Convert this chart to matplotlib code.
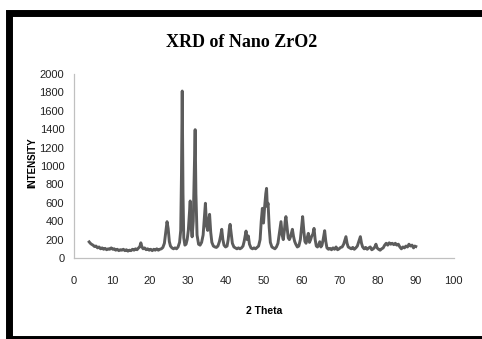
import matplotlib
matplotlib.use("Agg")
import matplotlib.pyplot as plt
from matplotlib.patches import Rectangle

# XRD pattern, 10 points per row
two_theta = [
    4.0, 4.3, 4.6, 5.0, 5.4, 5.8, 6.2, 6.6, 7.0, 7.4,
    7.8, 8.2, 8.6, 9.0, 9.4, 9.8, 10.2, 10.6, 11.0, 11.4,
    11.8, 12.2, 12.6, 13.0, 13.4, 13.8, 14.2, 14.6, 15.0, 15.4,
    15.8, 16.2, 16.6, 17.0, 17.3, 17.6, 17.9, 18.2, 18.6, 19.0,
    19.4, 19.8, 20.2, 20.6, 21.0, 21.4, 21.8, 22.2, 22.6, 23.0,
    23.4, 23.8, 24.1, 24.5, 24.8, 25.1, 25.4, 25.8, 26.2, 26.6,
    27.0, 27.4, 27.8, 28.1, 28.3, 28.5, 28.7, 28.9, 29.2, 29.5,
    29.8, 30.1, 30.4, 30.6, 30.8, 31.1, 31.4, 31.7, 31.9, 32.1,
    32.4, 32.8, 33.2, 33.6, 34.0, 34.3, 34.6, 34.9, 35.2, 35.5,
    35.7, 36.0, 36.3, 36.7, 37.1, 37.5, 37.9, 38.3, 38.6, 38.9,
    39.2, 39.5, 39.9, 40.3, 40.6, 40.9, 41.1, 41.4, 41.7, 42.1,
    42.5, 42.9, 43.3, 43.7, 44.1, 44.5, 44.8, 45.1, 45.3, 45.6,
    45.9, 46.2, 46.6, 47.0, 47.4, 47.8, 48.2, 48.6, 49.0, 49.3,
    49.6, 49.9, 50.2, 50.5, 50.7, 50.9, 51.1, 51.4, 51.7, 52.1,
    52.5, 52.9, 53.3, 53.7, 54.0, 54.3, 54.5, 54.8, 55.1, 55.4,
    55.6, 55.8, 56.1, 56.4, 56.7, 57.0, 57.3, 57.5, 57.8, 58.1,
    58.4, 58.8, 59.2, 59.6, 59.9, 60.2, 60.5, 60.8, 61.1, 61.4,
    61.7, 62.0, 62.3, 62.6, 62.9, 63.2, 63.5, 63.8, 64.1, 64.4,
    64.7, 65.0, 65.3, 65.6, 66.0, 66.3, 66.6, 67.0, 67.4, 67.8,
    68.2, 68.6, 69.0, 69.4, 69.8, 70.2, 70.6, 71.0, 71.3, 71.6,
    71.9, 72.2, 72.6, 73.0, 73.4, 73.8, 74.2, 74.6, 75.0, 75.4,
    75.7, 76.0, 76.4, 76.8, 77.2, 77.6, 78.0, 78.4, 78.8, 79.2,
    79.5, 79.8, 80.2, 80.6, 81.0, 81.4, 81.8, 82.2, 82.6, 83.0,
    83.4, 83.8, 84.2, 84.6, 85.0, 85.4, 85.8, 86.2, 86.6, 87.0,
    87.4, 87.8, 88.2, 88.6, 89.0, 89.4, 89.7, 90.0,
]
intensity = [
    175, 160, 150, 140, 125, 130, 110, 120, 100, 110,
    95, 105, 90, 100, 95, 110, 95, 100, 85, 95,
    80, 90, 85, 95, 80, 90, 75, 85, 80, 95,
    85, 100, 90, 110, 120, 165, 120, 100, 110, 90,
    100, 85, 95, 80, 95, 85, 100, 85, 95, 100,
    115, 160, 260, 395, 320, 180, 130, 110, 100, 110,
    100, 120, 170, 300, 900, 1815, 700, 220, 140, 150,
    200, 300, 500, 620, 350, 230, 400, 1000, 1395, 700,
    250, 150, 140, 170, 250, 420, 595, 350, 300, 420,
    475, 280, 170, 130, 120, 115, 130, 180, 240, 312,
    200, 140, 120, 130, 200, 320, 366, 260, 160, 120,
    110, 100, 110, 100, 110, 130, 180, 250, 293, 200,
    240, 150, 110, 100, 110, 100, 115, 130, 200, 400,
    540, 380, 560, 700, 757, 560, 595, 330, 170, 120,
    110, 100, 120, 160, 250, 340, 395, 250, 200, 300,
    400, 450, 330, 220, 200, 230, 280, 312, 235, 180,
    150, 120, 130, 200, 330, 450, 300, 180, 160, 220,
    268, 170, 200, 240, 260, 322, 200, 130, 120, 140,
    177, 120, 140, 200, 297, 180, 110, 95, 105, 90,
    110, 95, 120, 90, 100, 115, 120, 150, 190, 232,
    160, 120, 110, 100, 115, 95, 110, 130, 180, 232,
    160, 120, 100, 115, 95, 110, 120, 90, 100, 120,
    150, 110, 95, 85, 100, 110, 140, 160, 140, 165,
    150, 160, 145, 160, 140, 150, 120, 100, 120, 110,
    130, 120, 150, 130, 140, 110, 130, 125,
]

x_ticks = [0, 10, 20, 30, 40, 50, 60, 70, 80, 90, 100]
y_ticks = [0, 200, 400, 600, 800, 1000, 1200, 1400, 1600, 1800, 2000]

fig = plt.figure(figsize=(4.82, 3.39), dpi=100)
ax = fig.add_axes([0.1535, 0.2389, 0.788, 0.5428])

ax.plot(two_theta, intensity, color="#5c5c5c", linewidth=2.1)

ax.set_xlim(0, 100)
ax.set_ylim(0, 2000)
ax.set_xticks(x_ticks)
ax.set_yticks(y_ticks)
ax.tick_params(length=0, labelsize=8, labelcolor="#222222")
ax.tick_params(axis="x", pad=13)
ax.tick_params(axis="y", pad=7)
for lab in ax.get_xticklabels() + ax.get_yticklabels():
    lab.set_family("Liberation Sans")

for s in ["top", "right"]:
    ax.spines[s].set_visible(False)
for s in ["left", "bottom"]:
    ax.spines[s].set_color("#c0c0c0")
    ax.spines[s].set_linewidth(0.9)

ax.set_xlabel("2 Theta", fontsize=7.5, fontweight="bold", family="Liberation Sans")
ax.set_ylabel("INTENSITY", fontsize=7, fontweight="bold", family="Liberation Sans")
ax.xaxis.set_label_coords(0.5, -0.288)
ax.yaxis.set_label_coords(-0.11, 0.516)
ax.xaxis.label.set_va("center")
ax.yaxis.label.set_va("center")

fig.text(0.502, 0.876, "XRD of Nano ZrO2", ha="center", va="center",
         fontsize=13, fontweight="bold", family="Liberation Serif")

# black frame round the chart
fig.patches.append(Rectangle((8.5 / 482, 1 - 338.5 / 339), (486 - 8.5) / 482, (338.5 - 12.5) / 339,
                             transform=fig.transFigure, fill=False, edgecolor="black",
                             linewidth=5.0, clip_on=False))

fig.savefig("out.png", dpi=100)
